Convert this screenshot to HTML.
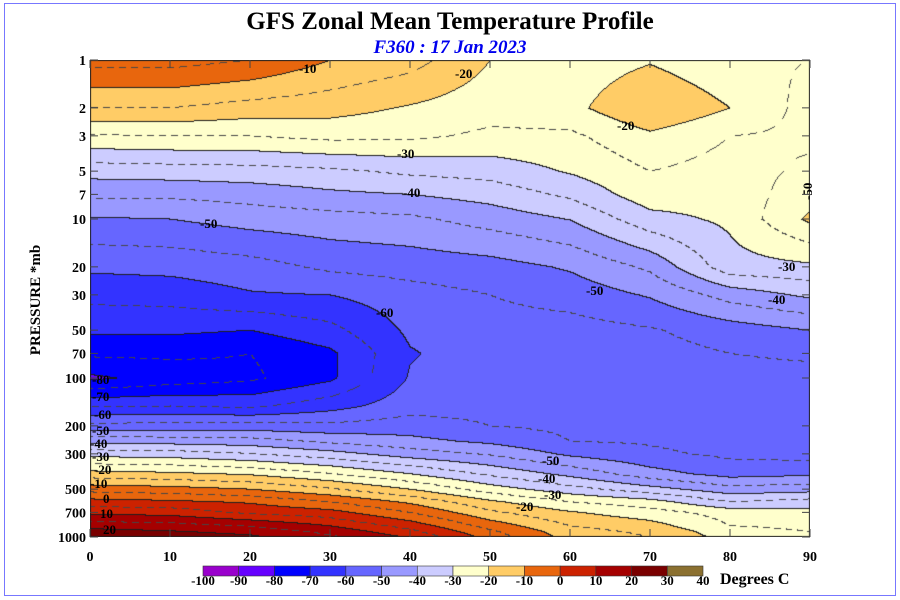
<!DOCTYPE html>
<html><head><meta charset="utf-8">
<style>
body{margin:0;background:#fff;}
#wrap{position:relative;width:900px;height:600px;overflow:hidden;font-family:"Liberation Serif",serif;}
#frame{position:absolute;left:4px;top:3px;width:892px;height:593px;border:1px solid #7777ff;box-sizing:border-box;}
canvas{position:absolute;left:90px;top:60px;}
svg{position:absolute;left:0;top:0;}
</style></head>
<body>
<div id="wrap">
<div id="frame"></div>
<canvas id="cv" width="720" height="477"></canvas>
<svg id="sv" width="900" height="600">
<text x="450" y="29" text-anchor="middle" font-size="25" font-weight="bold" font-family="Liberation Serif,serif">GFS Zonal Mean Temperature Profile</text>
<text x="450" y="53" text-anchor="middle" font-size="19" font-weight="bold" font-style="italic" fill="#0000ee" font-family="Liberation Serif,serif">F360 : 17 Jan 2023</text>
<text transform="translate(40,300) rotate(-90)" text-anchor="middle" font-size="15" font-weight="bold" font-family="Liberation Serif,serif">PRESSURE *mb</text>
<text x="720" y="584" font-size="16" font-weight="bold" font-family="Liberation Serif,serif">Degrees C</text>
<g id="labels" font-size="13" font-weight="bold" font-family="Liberation Serif,serif">
<text x="92" y="384">-80</text>
<text x="92" y="401">-70</text>
<text x="94" y="419">-60</text>
<text x="92" y="435">-50</text>
<text x="90" y="448">-40</text>
<text x="92" y="461">-30</text>
<text x="94" y="474">-20</text>
<text x="90" y="488">-10</text>
<text x="103" y="503">0</text>
<text x="100" y="518">10</text>
<text x="103" y="534">20</text>
<text x="299" y="73">-10</text>
<text x="455" y="78">-20</text>
<text x="617" y="130">-20</text>
<text x="397" y="158">-30</text>
<text x="403" y="197">-40</text>
<text x="200" y="228">-50</text>
<text x="376" y="317">-60</text>
<text x="586" y="295">-50</text>
<text x="778" y="271">-30</text>
<text x="768" y="304">-40</text>
<text x="542" y="465">-50</text>
<text x="538" y="483">-40</text>
<text x="544" y="499">-30</text>
<text x="516" y="511">-20</text>
<text transform="translate(812,200) rotate(-90)">-50</text>
</g>
</svg>
</div>
<script>
// ---- data ----
const lats = [0,10,20,30,40,50,60,70,80,90];
const pressureLevels = [1,2,3,5,7,10,20,30,50,70,100,150,200,250,300,400,500,600,700,850,925,1000];
const tLat0  = [-3,-15,-25.5,-38,-44,-50.5,-59,-63.5,-69,-74,-81,-65.5,-53.5,-41.5,-32,-18,-7,2,8.7,18,22,25];
const tLat10 = [-3,-15,-25,-37.5,-44,-50,-58.5,-63,-69,-74,-78,-65,-53,-42,-32.5,-19,-8,1,8,17,20.5,23];
const tLat20 = [-5,-17,-25,-37,-43,-48,-57,-60.5,-70,-75,-76,-66,-53,-42.7,-34.7,-20.7,-10,-0.7,4,14.7,18.5,21];
const tLat30 = [-10,-18,-23.5,-36,-41,-47,-54,-60,-66.5,-71,-71,-62,-53.7,-46,-38,-24.7,-14.3,-5,1.8,10,13.6,16];
const tLat40 = [-13,-20.5,-24,-34,-40,-46,-53,-57,-59,-60.4,-59.5,-57,-52.6,-48.5,-42.5,-30,-20,-11,-5,3,6.5,9.5];
const tLat50 = [-20,-23,-26,-33,-38,-43,-52,-55,-57,-57.5,-57.5,-56.5,-55,-51,-45.5,-36,-27.5,-19,-14,-7,-4,-2];
const tLat60 = [-23,-21.5,-26,-29.5,-34,-39.8,-49.4,-53,-57,-58,-58,-57,-56,-55,-51,-41.5,-33,-25,-19.5,-15,-13,-12];
const tLat70 = [-20.5,-15,-21,-25,-27,-31.8,-44,-49.5,-55.5,-57,-58,-58,-57,-55.5,-54,-48,-38,-28,-23,-18,-16,-15];
const tLat80 = [-24,-20,-25,-27,-28,-29,-32,-43,-52.5,-55,-57,-58,-58,-57,-56,-52,-43,-35,-27,-25,-23,-22];
const tLat90 = [-25,-27,-26,-24,-22,-19,-31,-39,-50,-54,-57,-58,-58,-58,-57,-51,-42,-33,-28,-26,-25,-24];
const latTicks = [0,10,20,30,40,50,60,70,80,90];
const pressureTicks = [1,2,3,5,7,10,20,30,50,70,100,200,300,500,700,1000];
const colorLevels = [-100,-90,-80,-70,-60,-50,-40,-30,-20,-10,0,10,20,30,40];
const binColors = ["#9900cc","#6600ff","#0000ff","#3333ff","#6666ff","#9999ff","#ccccff","#ffffcc","#ffcc66","#e8660d","#cc2200","#a50000","#7a0000","#8b7030"];

const columns = [tLat0,tLat10,tLat20,tLat30,tLat40,tLat50,tLat60,tLat70,tLat80,tLat90];
// ---- axes ----
const PX0=90, PX1=810, PY0=60, PY1=537;
function xScale(lat){return PX0+(lat-lats[0])/(lats[lats.length-1]-lats[0])*(PX1-PX0);}
function yScale(p){return PY0+Math.log10(p)/3*(PY1-PY0);}
function hexRGB(h){return [parseInt(h.substr(1,2),16),parseInt(h.substr(3,2),16),parseInt(h.substr(5,2),16)];}
const rgb = binColors.map(hexRGB);
const logP = pressureLevels.map(p=>Math.log10(p));
function tempAt(lat, lp){
  let i=0; while(i<lats.length-2 && lat>lats[i+1]) i++;
  let fx=(lat-lats[i])/(lats[i+1]-lats[i]); fx=Math.max(0,Math.min(1,fx));
  let j=0; while(j<logP.length-2 && lp>logP[j+1]) j++;
  let fy=(lp-logP[j])/(logP[j+1]-logP[j]); fy=Math.max(0,Math.min(1,fy));
  const a=columns[i][j], b=columns[i+1][j], c=columns[i][j+1], d=columns[i+1][j+1];
  return (a*(1-fx)+b*fx)*(1-fy)+(c*(1-fx)+d*fx)*fy;
}
// ---- contour field ----
const cv=document.getElementById('cv'), ctx=cv.getContext('2d');
const W=cv.width, H=cv.height;
const T=new Float32Array(W*H);
for(let y=0;y<H;y++){
  const lp=(y/(PY1-PY0))*3;
  for(let x=0;x<W;x++){
    const lat=lats[0]+x/(PX1-PX0)*(lats[lats.length-1]-lats[0]);
    T[y*W+x]=tempAt(lat,lp);
  }
}
const img=ctx.createImageData(W,H);
function bin(t){return Math.floor((t-colorLevels[0])/10);}
function bin5(t){return Math.floor((t-colorLevels[0]-5)/10);}
for(let y=0;y<H;y++){
  for(let x=0;x<W;x++){
    const t=T[y*W+x];
    let b=Math.max(0,Math.min(binColors.length-1,bin(t)));
    let c=rgb[b];
    const k=(y*W+x)*4;
    let line=0;
    if(x<W-1 && bin(T[y*W+x+1])!==bin(t)) line=1;
    if(y<H-1 && bin(T[(y+1)*W+x])!==bin(t)) line=1;
    if(!line){
      let d=0;
      if(x<W-1 && bin5(T[y*W+x+1])!==bin5(t)) d=1;
      if(y<H-1 && bin5(T[(y+1)*W+x])!==bin5(t)) d=1;
      if(d && ((x+y)%12)<7) line=2;
    }
    if(line===1){c=[30,30,30];}
    else if(line===2){c=[70,70,70];}
    img.data[k]=c[0];img.data[k+1]=c[1];img.data[k+2]=c[2];img.data[k+3]=255;
  }
}
ctx.putImageData(img,0,0);
ctx.strokeStyle='#222';ctx.lineWidth=1;ctx.strokeRect(0.5,0.5,W-1,H-1);

// ---- ticks & labels ----
const NS='http://www.w3.org/2000/svg';
const sv=document.getElementById('sv');
function mk(tag,attrs){const e=document.createElementNS(NS,tag);for(const k in attrs)e.setAttribute(k,attrs[k]);return e;}
pressureTicks.forEach(p=>{
  const y=yScale(p);
  const t=mk('text',{x:86,y:y+5,'text-anchor':'end','font-size':14,'font-weight':'bold','font-family':'Liberation Serif,serif'});
  t.textContent=p;
  
  
  sv.appendChild(t);
  const l1=mk('line',{x1:PX0,x2:PX0+8,y1:y,y2:y,stroke:'#444','stroke-width':1});
  
  
  sv.appendChild(l1);
  const l2=mk('line',{x1:PX1-8,x2:PX1,y1:y,y2:y,stroke:'#444','stroke-width':1});
  
  
  sv.appendChild(l2);
});
latTicks.forEach(lat=>{
  const x=xScale(lat);
  const t=mk('text',{x:x,y:561,'text-anchor':'middle','font-size':14,'font-weight':'bold','font-family':'Liberation Serif,serif'});
  t.textContent=lat;
  
  
  sv.appendChild(t);
  const l1=mk('line',{x1:x,x2:x,y1:PY1-8,y2:PY1,stroke:'#444','stroke-width':1});
  
  
  sv.appendChild(l1);
  const l2=mk('line',{x1:x,x2:x,y1:PY0,y2:PY0+8,stroke:'#444','stroke-width':1});
  
  
  sv.appendChild(l2);
});
// ---- colorbar ----
const CB0=203, CB1=703, CBY=566, CBH=10;
const cbw=(CB1-CB0)/binColors.length;
binColors.forEach((c,i)=>{
  const r=mk('rect',{x:CB0+i*cbw,y:CBY,width:cbw,height:CBH,fill:c,stroke:'#333','stroke-width':0.6});
  
  
  sv.appendChild(r);
});
colorLevels.forEach((v,i)=>{
  const t=mk('text',{x:CB0+i*cbw,y:585,'text-anchor':'middle','font-size':13,'font-weight':'bold','font-family':'Liberation Serif,serif'});
  t.textContent=v;
  
  
  sv.appendChild(t);
});
</script>
</body></html>
